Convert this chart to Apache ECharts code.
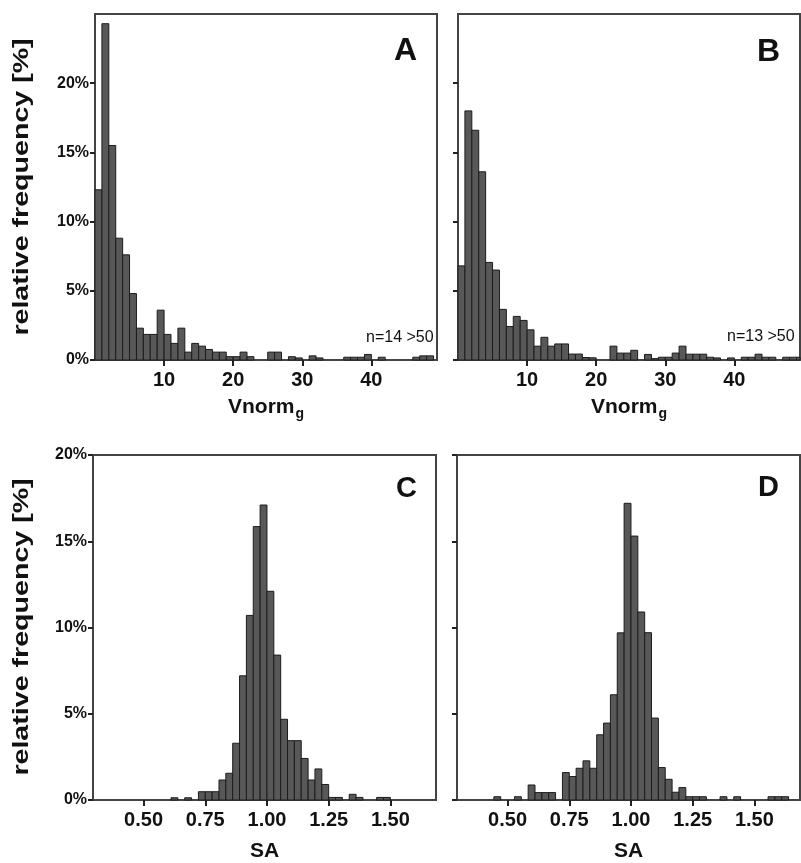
<!DOCTYPE html>
<html>
<head>
<meta charset="utf-8">
<script src="https://cdn.jsdelivr.net/npm/echarts@6/dist/echarts.min.js"></script>
<style>
  html, body { margin: 0; padding: 0; background: #fff; }
  #chart { width: 801px; height: 863px; }
</style>
</head>
<body>
<div id="chart"></div>
<script>
// 直方图数据（相对频率 %），每个数组按箱子顺序
// A、B：Vnorm_g，箱宽 1，从 0 开始
var vnormBinWidth = 1
var freqA = [12.3, 24.3, 15.5, 8.8, 7.6, 4.8, 2.3, 1.85, 1.85, 3.6,
  1.85, 1.2, 2.3, 0.57, 1.2, 1.0, 0.76, 0.57, 0.57, 0.24,
  0.24, 0.57, 0.24, 0, 0, 0.57, 0.57, 0, 0.24, 0.15,
  0, 0.3, 0.15, 0, 0, 0, 0.2, 0.2, 0.2, 0.4,
  0, 0.2, 0, 0, 0, 0, 0.2, 0.3, 0.3]
var freqB = [6.8, 18.0, 16.6, 13.6, 7.05, 6.5, 3.66, 2.42, 3.15, 2.86,
  2.18, 1.0, 1.64, 1.0, 1.16, 1.16, 0.43, 0.43, 0.18, 0.16,
  0, 0, 1.0, 0.5, 0.5, 0.7, 0, 0.4, 0.1, 0.2,
  0.2, 0.5, 1.0, 0.42, 0.42, 0.42, 0.2, 0.15, 0, 0.15,
  0, 0.2, 0.2, 0.42, 0.2, 0.2, 0, 0.2, 0.2, 0.2]

// C、D：SA，箱宽 0.25/9
var saBinWidth = 0.25 / 9
var saStartC = 0.75 - 5 * saBinWidth
var freqC = [0.13, 0, 0.13, 0, 0.48, 0.48, 0.48, 1.16, 1.55, 3.29,
  7.2, 10.7, 15.85, 17.1, 12.1, 8.4, 4.68, 3.44, 3.44, 2.41,
  1.16, 1.8, 0.9, 0.15, 0.15, 0, 0.33, 0.15, 0, 0,
  0.15, 0.15]
var saStartD = 0.75 - 11 * saBinWidth
var freqD = [0.19, 0, 0, 0.19, 0, 0.87, 0.43, 0.43, 0.43, 0,
  1.59, 1.36, 1.84, 2.27, 1.84, 3.78, 4.46, 6.1, 9.69, 17.2,
  15.3, 10.9, 9.7, 4.75, 1.88, 1.2, 0.45, 0.72, 0.19, 0.19,
  0.19, 0, 0, 0.19, 0, 0.19, 0, 0, 0, 0,
  0.19, 0.19, 0.19]

var vnormTicks = [10, 20, 30, 40]
var saTicks = [0.5, 0.75, 1.0, 1.25, 1.5]
var freqTicksAB = [0, 5, 10, 15, 20]
var freqTicksCD = [0, 5, 10, 15, 20]

var FONT = '"Liberation Sans", Arial, sans-serif'
var FRAME = '#444'

// 把频率数组转成 [左边界, 右边界, 频率]
function toBins (freq, start, width) {
  var out = []
  freq.forEach(function (f, i) {
    if (f > 0) out.push([start + i * width, start + (i + 1) * width, f])
  })
  return out
}

function renderBar (params, api) {
  var p0 = api.coord([api.value(0), api.value(2)])
  var p1 = api.coord([api.value(1), 0])
  var cs = params.coordSys
  var rect = echarts.graphic.clipRectByRect(
    { x: p0[0], y: p0[1], width: p1[0] - p0[0], height: p1[1] - p0[1] },
    { x: cs.x, y: cs.y, width: cs.width, height: cs.height }
  )
  if (!rect) return
  return {
    type: 'rect',
    shape: rect,
    style: { fill: '#585858', stroke: '#1c1c1c', lineWidth: 1 }
  }
}

function xAxisOf (idx, min, max, ticks, fmt, name, gap, rich) {
  return {
    type: 'value',
    gridIndex: idx,
    min: min,
    max: max,
    name: name,
    nameLocation: 'middle',
    nameGap: gap,
    nameTextStyle: {
      color: '#111', fontFamily: FONT, fontWeight: 'bold', fontSize: 21,
      rich: rich
    },
    axisLine: { show: true, lineStyle: { color: FRAME, width: 2 } },
    axisTick: { show: true, inside: false, length: 6, customValues: ticks, lineStyle: { color: '#222', width: 2 } },
    axisLabel: { show: true, customValues: ticks, formatter: fmt, margin: 10, color: '#111', fontFamily: FONT, fontWeight: 'bold', fontSize: 20 },
    splitLine: { show: false }
  }
}

function yAxisOf (idx, max, ticks, showLabels) {
  return {
    type: 'value',
    gridIndex: idx,
    min: 0,
    max: max,
    axisLine: { show: true, lineStyle: { color: FRAME, width: 2 } },
    axisTick: { show: true, inside: false, length: 5, customValues: ticks, lineStyle: { color: '#222', width: 2 } },
    axisLabel: {
      show: showLabels, customValues: ticks, margin: 6,
      formatter: function (v) { return v + '%' },
      color: '#111', fontFamily: FONT, fontWeight: 'bold', fontSize: 16
    },
    splitLine: { show: false }
  }
}

var vnormRich = {
  m: { fontFamily: FONT, fontWeight: 'bold', fontSize: 21, color: '#111', lineHeight: 24, verticalAlign: 'top' },
  s: { fontFamily: FONT, fontWeight: 'bold', fontSize: 14, color: '#111', lineHeight: 16, verticalAlign: 'bottom', padding: [14, 0, 0, 1] }
}
var saFmt = function (v) { return v.toFixed(2) }

var gridStyle = { show: true, borderColor: FRAME, borderWidth: 2, containLabel: false }

// 纵轴标题（原图中沿文字方向略有拉伸）
function yTitle (cy) {
  return {
    type: 'text',
    x: 22,
    y: cy,
    rotation: Math.PI / 2,
    scaleX: 1.3,
    style: {
      text: 'relative frequency [%]',
      font: 'bold 22px ' + FONT,
      fill: '#111',
      align: 'center',
      verticalAlign: 'middle'
    }
  }
}

var option = {
  animation: false,
  backgroundColor: '#fff',
  grid: [
    Object.assign({ left: 95, top: 14, width: 342, height: 346 }, gridStyle),
    Object.assign({ left: 458, top: 14, width: 342, height: 346 }, gridStyle),
    Object.assign({ left: 93, top: 455, width: 343, height: 345 }, gridStyle),
    Object.assign({ left: 457, top: 455, width: 343, height: 345 }, gridStyle)
  ],
  xAxis: [
    xAxisOf(0, 0, 49.5, vnormTicks, null, '{m|Vnorm}{s|g}', 37, vnormRich),
    xAxisOf(1, 0, 49.5, vnormTicks, null, '{m|Vnorm}{s|g}', 37, vnormRich),
    xAxisOf(2, 0.295, 1.685, saTicks, saFmt, 'SA', 41),
    xAxisOf(3, 0.295, 1.685, saTicks, saFmt, 'SA', 41)
  ],
  yAxis: [
    yAxisOf(0, 25, freqTicksAB, true),
    yAxisOf(1, 25, freqTicksAB, false),
    yAxisOf(2, 20, freqTicksCD, true),
    yAxisOf(3, 20, freqTicksCD, false)
  ],
  series: [
    { type: 'custom', xAxisIndex: 0, yAxisIndex: 0, renderItem: renderBar, encode: { x: [0, 1], y: 2 }, data: toBins(freqA, 0, vnormBinWidth) },
    { type: 'custom', xAxisIndex: 1, yAxisIndex: 1, renderItem: renderBar, encode: { x: [0, 1], y: 2 }, data: toBins(freqB, 0, vnormBinWidth) },
    { type: 'custom', xAxisIndex: 2, yAxisIndex: 2, renderItem: renderBar, encode: { x: [0, 1], y: 2 }, data: toBins(freqC, saStartC, saBinWidth) },
    { type: 'custom', xAxisIndex: 3, yAxisIndex: 3, renderItem: renderBar, encode: { x: [0, 1], y: 2 }, data: toBins(freqD, saStartD, saBinWidth) }
  ],
  graphic: [
    yTitle(187),
    yTitle(627),
    { type: 'text', left: 394, top: 35, style: { text: 'A', font: 'bold 32px ' + FONT, fill: '#111' } },
    { type: 'text', left: 757, top: 36, style: { text: 'B', font: 'bold 32px ' + FONT, fill: '#111' } },
    { type: 'text', left: 396, top: 474, style: { text: 'C', font: 'bold 29px ' + FONT, fill: '#111' } },
    { type: 'text', left: 758, top: 473, style: { text: 'D', font: 'bold 29px ' + FONT, fill: '#111' } },
    { type: 'text', left: 366, top: 330, style: { text: 'n=14 >50', font: '16px ' + FONT, fill: '#111' } },
    { type: 'text', left: 727, top: 329, style: { text: 'n=13 >50', font: '16px ' + FONT, fill: '#111' } }
  ]
}

var chart = echarts.init(document.getElementById('chart'), null, { renderer: 'canvas' })
chart.setOption(option)
</script>
</body>
</html>
